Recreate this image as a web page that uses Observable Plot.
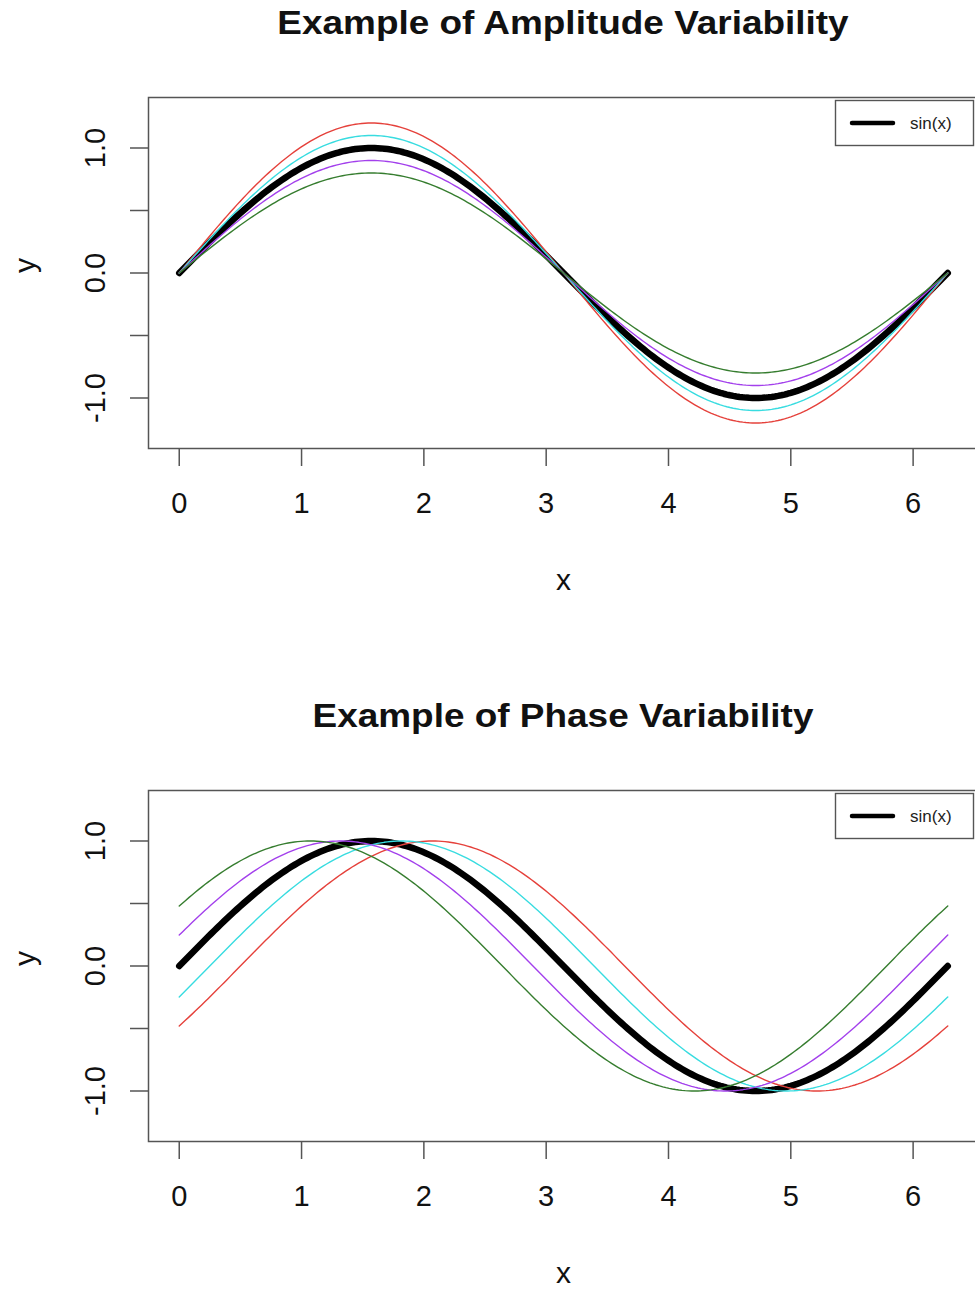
<!DOCTYPE html>
<html>
<head>
<meta charset="utf-8">
<script src="https://cdn.jsdelivr.net/npm/d3@7"></script>
<script src="https://cdn.jsdelivr.net/npm/@observablehq/plot@0.6"></script>
<style>
  html, body { margin: 0; padding: 0; background: #fff; }
  #page { position: relative; width: 975px; height: 1290px; overflow: hidden; background: #fff; }
  #page > svg { position: absolute; left: 0; max-width: none !important; }
  #overlay { top: 0; pointer-events: none; }
</style>
</head>
<body>
<div id="page"></div>
<script>
// Panel titles
const panelTitles = ["Example of Amplitude Variability", "Example of Phase Variability"];

// Reference curve: sin(x), drawn thick in black
const baseLabel = "sin(x)";
const baseColor = "#000000";

// Variant curves (same colour order in both panels)
const variantColors = ["#e5413b", "#38dce0", "#a340ec", "#367d2f"];
const amplitudes = [1.2, 1.1, 0.9, 0.8];      // upper panel: a * sin(x)
const phaseShifts = [-0.5, -0.25, 0.25, 0.5]; // lower panel: sin(x + p)

// Axis ticks and labels
const xTicks = [0, 1, 2, 3, 4, 5, 6];
const yTicks = [-1, -0.5, 0, 0.5, 1];
const yTickLabels = [-1, 0, 1];

// x runs over one full period, 0 .. 2π
const TAU = 2 * Math.PI;
const nSamples = 240;
const xs = d3.range(nSamples + 1).map(i => (i / nSamples) * TAU);

const font = "'Liberation Sans', Arial, Helvetica, sans-serif";
const ink = "#111";
const boxGray = "#555";

// base-graphics style padding of 4% on each side
const pad = (lo, hi) => { const d = (hi - lo) * 0.04; return [lo - d, hi + d]; };
const xDomain = pad(0, TAU);
const yDomain = pad(-1.3, 1.3);

function curve(amp, shift) {
  return xs.map(x => ({x, y: amp * Math.sin(x + shift)}));
}

function panel(variants) {
  const marks = [
    Plot.frame({stroke: boxGray, strokeWidth: 1.5}),
    Plot.axisX({
      ticks: xTicks, tickSize: 18, tickPadding: 26, fontSize: 29,
      stroke: boxGray, strokeWidth: 1.5, fill: ink, label: null,
      tickFormat: d => String(d)
    }),
    Plot.axisY({
      ticks: yTicks, tickSize: 18, stroke: boxGray, strokeWidth: 1.5,
      label: null, tickFormat: () => ""
    }),
    Plot.text(yTickLabels, {
      y: d => d, text: d => d.toFixed(1), frameAnchor: "left",
      rotate: -90, dx: -53, lineAnchor: "middle", textAnchor: "middle",
      fontSize: 29, fill: ink
    }),
    Plot.text(["x"], {frameAnchor: "bottom", dy: 132, lineAnchor: "middle", fontSize: 30, fill: ink}),
    Plot.text(["y"], {frameAnchor: "left", dx: -123, rotate: -90, lineAnchor: "middle", fontSize: 30, fill: ink}),
    Plot.line(curve(1, 0), {x: "x", y: "y", stroke: baseColor, strokeWidth: 6.5, strokeLinecap: "round", strokeLinejoin: "round"})
  ];
  variants.forEach((v, i) => {
    marks.push(Plot.line(curve(v.amp, v.shift), {
      x: "x", y: "y", stroke: variantColors[i], strokeWidth: 1.4, strokeLinecap: "round"
    }));
  });
  return Plot.plot({
    width: 990, height: 600,
    marginLeft: 148, marginRight: 12, marginTop: 97, marginBottom: 152,
    x: {domain: xDomain},
    y: {domain: yDomain},
    style: {fontFamily: font, background: "transparent", overflow: "visible", maxWidth: "none"},
    marks
  });
}

const page = document.getElementById("page");

const p1 = panel(amplitudes.map(a => ({amp: a, shift: 0})));
p1.style.top = "0px";
p1.style.maxWidth = "none";
page.appendChild(p1);

const p2 = panel(phaseShifts.map(p => ({amp: 1, shift: p})));
p2.style.top = "693px";
p2.style.maxWidth = "none";
page.appendChild(p2);

// Titles and legends drawn on a shared overlay
const overlay = d3.select(page).append("svg")
  .attr("id", "overlay").attr("width", 975).attr("height", 1290)
  .style("font-family", font);

const panelTops = [0, 693];
panelTops.forEach((top, i) => {
  overlay.append("text")
    .attr("transform", `translate(563,${top + 34}) scale(1.12,1)`)
    .attr("text-anchor", "middle")
    .attr("font-size", 33).attr("font-weight", "bold").attr("fill", ink)
    .text(panelTitles[i]);

  const g = overlay.append("g").attr("transform", `translate(0,${top})`);
  g.append("rect")
    .attr("x", 835.5).attr("y", 100.5).attr("width", 138).attr("height", 45)
    .attr("fill", "#fff").attr("stroke", boxGray).attr("stroke-width", 1.4);
  g.append("line")
    .attr("x1", 852).attr("x2", 893).attr("y1", 123).attr("y2", 123)
    .attr("stroke", baseColor).attr("stroke-width", 4.5).attr("stroke-linecap", "round");
  g.append("text")
    .attr("x", 910).attr("y", 129).attr("font-size", 17).attr("fill", "#222")
    .text(baseLabel);
});
</script>
</body>
</html>
